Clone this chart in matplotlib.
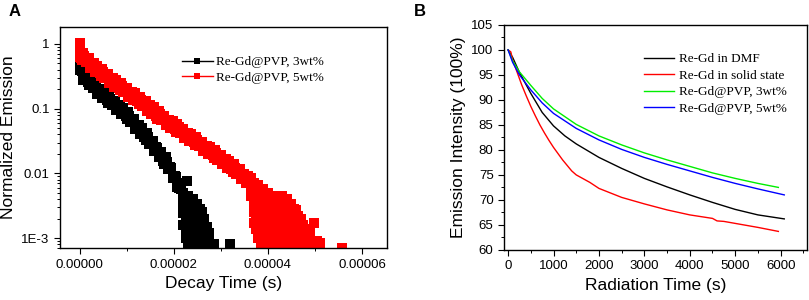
import numpy as np
import matplotlib
matplotlib.use("Agg")
import matplotlib.pyplot as plt
from matplotlib.lines import Line2D
from matplotlib.ticker import NullFormatter, MultipleLocator, LogLocator

plt.rcParams['font.family'] = ['Liberation Sans', 'DejaVu Sans']

# ---------------- Panel A data (time in microseconds) ----------------
labels_A = ["Re-Gd@PVP, 3wt%", "Re-Gd@PVP, 5wt%"]

black_t0_us = [0.0, 0.0, 0.0, 0.0, 0.0, 0.25]
black_v0 = [0.64, 0.57, 0.50, 0.44, 0.40, 0.40]
black_band_t_us = [0.5, 1.0, 1.5, 2.0, 2.5, 3.0, 3.5, 4.0, 4.5, 5.0, 5.5, 6.0, 6.5, 7.0, 7.5,
                   8.0, 8.5, 9.0, 9.5, 10.0, 10.5, 11.0, 11.5, 12.0, 12.5, 13.0, 13.5, 14.0,
                   14.5, 15.0, 15.5, 16.0, 16.5, 17.0, 17.5, 18.0, 18.5, 19.0, 19.5, 20.0,
                   20.5, 21.0, 21.5]
black_band_v = [0.380, 0.288, 0.295, 0.229, 0.257, 0.214, 0.237, 0.178, 0.200, 0.151, 0.157,
                0.123, 0.141, 0.117, 0.132, 0.100, 0.112, 0.0841, 0.0871, 0.0684, 0.0776,
                0.0631, 0.0692, 0.0513, 0.0562, 0.0417, 0.0422, 0.0324, 0.0363, 0.0292,
                0.0316, 0.0232, 0.0251, 0.0182, 0.0182, 0.0138, 0.0151, 0.0117, 0.0123,
                0.0087, 0.0089, 0.0060, 0.0058]
black_mid_t_us = [0.75, 1.25, 1.75, 2.25, 2.75, 3.25, 3.75, 4.25, 4.75, 5.25, 5.75, 6.25, 6.75,
                  7.25, 7.75, 8.25, 8.75, 9.25, 9.75, 10.25, 10.75, 11.25, 11.75, 12.25, 12.75,
                  13.25, 13.75, 14.25, 14.75, 15.25, 15.75, 16.25, 16.75, 17.25, 17.75, 18.25,
                  18.75, 19.25, 19.75, 20.25, 20.75, 21.25]
black_mid_v = [0.279, 0.347, 0.257, 0.295, 0.207, 0.236, 0.169, 0.197, 0.146, 0.183, 0.137,
               0.160, 0.114, 0.130, 0.0944, 0.111, 0.0818, 0.102, 0.0763, 0.0886, 0.0617,
               0.0692, 0.0490, 0.0562, 0.0407, 0.0498, 0.0365, 0.0417, 0.0287, 0.0318,
               0.0223, 0.0253, 0.0180, 0.0216, 0.0157, 0.0176, 0.0117, 0.0126, 0.0085,
               0.0092, 0.0062, 0.0070]
black_tail_t_us = [22.0, 22.0, 22.0, 22.0,
                   22.5, 22.5, 22.5, 22.5, 22.5,
                   23.0, 23.0, 23.0, 23.0, 23.0, 23.0,
                   23.5, 23.5, 23.5, 23.5, 23.5,
                   24.0, 24.0, 24.0, 24.0, 24.0,
                   24.5, 24.5, 24.5, 24.5, 24.5,
                   25.0, 25.0, 25.0, 25.0, 25.0,
                   25.5, 25.5, 25.5, 25.5,
                   26.0, 26.0, 26.0, 26.0,
                   26.5, 26.5, 26.5, 26.5,
                   27.0, 27.0, 27.0,
                   27.5, 27.5,
                   22.8, 28.5, 32.0]
black_tail_v = [0.0050, 0.0035, 0.0024, 0.0016,
                0.0042, 0.0029, 0.0020, 0.0014, 0.0010,
                0.0045, 0.0031, 0.0022, 0.0015, 0.0010, 0.0007,
                0.0038, 0.0026, 0.0018, 0.0012, 0.0008,
                0.0040, 0.0028, 0.0019, 0.0013, 0.0009,
                0.0033, 0.0023, 0.0016, 0.0011, 0.00075,
                0.0034, 0.0024, 0.0016, 0.0011, 0.0008,
                0.0028, 0.0019, 0.0013, 0.0009,
                0.0025, 0.0017, 0.0012, 0.0008,
                0.0020, 0.0014, 0.0010, 0.0007,
                0.0015, 0.0011, 0.0008,
                0.0012, 0.0009,
                0.0075, 0.0008, 0.0008]

red_t0_us = [0.0, 0.0, 0.0, 0.0, 0.0, 0.25]
red_v0 = [1.03, 0.92, 0.80, 0.70, 0.62, 0.60]
red_band_t_us = [0.5, 1.0, 1.5, 2.0, 2.5, 3.0, 3.5, 4.0, 4.5, 5.0, 5.5, 6.0, 6.5, 7.0, 7.5,
                 8.0, 8.5, 9.0, 9.5, 10.0, 10.5, 11.0, 11.5, 12.0, 12.5, 13.0, 13.5, 14.0,
                 14.5, 15.0, 15.5, 16.0, 16.5, 17.0, 17.5, 18.0, 18.5, 19.0, 19.5, 20.0,
                 20.5, 21.0, 21.5, 22.0, 22.5, 23.0, 23.5, 24.0, 24.5, 25.0, 25.5, 26.0,
                 26.5, 27.0, 27.5, 28.0, 28.5, 29.0, 29.5, 30.0, 30.5, 31.0, 31.5, 32.0,
                 32.5, 33.0, 33.5, 34.0, 34.5, 35.0, 35.5, 36.0]
red_band_v = [0.56, 0.65, 0.54, 0.60, 0.45, 0.50, 0.38, 0.40, 0.317, 0.366, 0.306,
              0.344, 0.263, 0.296, 0.227, 0.239, 0.191, 0.221, 0.186, 0.210, 0.161, 0.183,
              0.140, 0.149, 0.117, 0.136, 0.114, 0.131, 0.099, 0.112, 0.086, 0.091,
              0.0700, 0.0813, 0.0684, 0.0776, 0.0596, 0.0676, 0.0519, 0.0550, 0.0442,
              0.0513, 0.0432, 0.0490, 0.0376, 0.0427, 0.0327, 0.0347, 0.0279, 0.0324,
              0.0272, 0.0309, 0.0237, 0.0269, 0.0207, 0.0219, 0.0175, 0.0203, 0.0170,
              0.0192, 0.0147, 0.0166, 0.0126, 0.0133, 0.0106, 0.0122, 0.0102, 0.0115,
              0.0087, 0.0098, 0.0074, 0.0078]
red_mid_t_us = [0.75, 1.25, 1.75, 2.25, 2.75, 3.25, 3.75, 4.25, 4.75, 5.25, 5.75, 6.25, 6.75,
                7.25, 7.75, 8.25, 8.75, 9.25, 9.75, 10.25, 10.75, 11.25, 11.75, 12.25, 12.75,
                13.25, 13.75, 14.25, 14.75, 15.25, 15.75, 16.25, 16.75, 17.25, 17.75, 18.25,
                18.75, 19.25, 19.75, 20.25, 20.75, 21.25, 21.75, 22.25, 22.75, 23.25, 23.75,
                24.25, 24.75, 25.25, 25.75, 26.25, 26.75, 27.25, 27.75, 28.25, 28.75, 29.25,
                29.75, 30.25, 30.75, 31.25, 31.75, 32.25, 32.75, 33.25, 33.75, 34.25, 34.75,
                35.25, 35.75]
red_mid_v = [0.73, 0.52, 0.60, 0.43, 0.50, 0.37, 0.46, 0.35, 0.415, 0.295, 0.34,
             0.248, 0.292, 0.218, 0.276, 0.211, 0.250, 0.178, 0.207, 0.151, 0.179, 0.134,
             0.172, 0.132, 0.153, 0.110, 0.128, 0.093, 0.110, 0.083, 0.105, 0.0772,
             0.0917, 0.0657, 0.0763, 0.0559, 0.0665, 0.0498, 0.0635, 0.0487, 0.0579,
             0.0414, 0.0481, 0.0353, 0.0419, 0.0314, 0.0400, 0.0307, 0.0365, 0.0262,
             0.0304, 0.0223, 0.0265, 0.0198, 0.0253, 0.0193, 0.0229, 0.0163, 0.0189,
             0.0138, 0.0163, 0.0122, 0.0154, 0.0117, 0.0138, 0.0098, 0.0113, 0.0082,
             0.0097, 0.0072, 0.0090]
red_tail_t_us = [36.5, 36.5, 36.5,
                 37.0, 37.0, 37.0, 37.0, 37.0,
                 37.5, 37.5, 37.5, 37.5, 37.5,
                 38.0, 38.0, 38.0, 38.0, 38.0, 38.0,
                 38.5, 38.5, 38.5, 38.5, 38.5, 38.5,
                 39.0, 39.0, 39.0, 39.0, 39.0, 39.0,
                 39.5, 39.5, 39.5, 39.5, 39.5, 39.5,
                 40.0, 40.0, 40.0, 40.0, 40.0, 40.0,
                 40.5, 40.5, 40.5, 40.5, 40.5, 40.5,
                 41.0, 41.0, 41.0, 41.0, 41.0, 41.0,
                 41.5, 41.5, 41.5, 41.5, 41.5,
                 42.0, 42.0, 42.0, 42.0, 42.0, 42.0,
                 42.5, 42.5, 42.5, 42.5, 42.5,
                 43.0, 43.0, 43.0, 43.0, 43.0, 43.0,
                 43.5, 43.5, 43.5, 43.5, 43.5,
                 44.0, 44.0, 44.0, 44.0, 44.0,
                 44.5, 44.5, 44.5, 44.5, 44.5,
                 45.0, 45.0, 45.0, 45.0, 45.0,
                 45.5, 45.5, 45.5, 45.5,
                 46.0, 46.0, 46.0, 46.0,
                 46.5, 46.5, 46.5, 46.5,
                 47.0, 47.0, 47.0,
                 47.5, 47.5, 47.5,
                 48.0, 48.0,
                 48.6, 49.0, 49.0, 49.7, 50.5, 51.1, 55.7]
red_tail_v = [0.0085, 0.0060, 0.0045,
              0.0070, 0.0050, 0.0036, 0.0025, 0.0017,
              0.0062, 0.0043, 0.0030, 0.0020, 0.0014,
              0.0065, 0.0045, 0.0032, 0.0022, 0.0015, 0.0010,
              0.0055, 0.0038, 0.0026, 0.0018, 0.0012, 0.0008,
              0.0058, 0.0040, 0.0028, 0.0019, 0.0013, 0.0009,
              0.0048, 0.0033, 0.0023, 0.0016, 0.0011, 0.00075,
              0.0050, 0.0035, 0.0024, 0.0017, 0.0012, 0.0008,
              0.0042, 0.0029, 0.0020, 0.0014, 0.0010, 0.0007,
              0.0045, 0.0031, 0.0021, 0.0015, 0.0010, 0.0007,
              0.0038, 0.0026, 0.0018, 0.0012, 0.0009,
              0.0044, 0.0030, 0.0021, 0.0014, 0.0010, 0.0007,
              0.0036, 0.0025, 0.0017, 0.0012, 0.0008,
              0.0045, 0.0031, 0.0021, 0.0014, 0.0010, 0.0007,
              0.0037, 0.0025, 0.0017, 0.0012, 0.0008,
              0.0040, 0.0028, 0.0019, 0.0013, 0.0009,
              0.0033, 0.0023, 0.0016, 0.0011, 0.00075,
              0.0034, 0.0024, 0.0016, 0.0011, 0.0008,
              0.0028, 0.0019, 0.0013, 0.0009,
              0.0027, 0.0019, 0.0013, 0.0009,
              0.0022, 0.0015, 0.0010, 0.0007,
              0.0020, 0.0014, 0.0009,
              0.0016, 0.0011, 0.0008,
              0.0014, 0.0009,
              0.0010, 0.0012, 0.0008, 0.0017, 0.0009, 0.00083, 0.0007]

xticks_A = [0.0, 0.00002, 0.00004, 0.00006]
xticklabels_A = ["0.00000", "0.00002", "0.00004", "0.00006"]
yticks_A = [1e-3, 1e-2, 1e-1, 1.0]
yticklabels_A = ["1E-3", "0.01", "0.1", "1"]

# ---------------- Panel B data ----------------
labels_B = ["Re-Gd in DMF", "Re-Gd in solid state", "Re-Gd@PVP, 3wt%", "Re-Gd@PVP, 5wt%"]
colors_B = ["black", "#ff0000", "#00ee00", "#0000ff"]

dmf_t = [0, 100, 250, 500, 750, 1000, 1250, 1500, 2000, 2500, 3000, 3500, 4000, 4500, 5000, 5500, 6080]
dmf_v = [100, 98.5, 95.5, 91.3, 87.5, 84.8, 82.8, 81.2, 78.5, 76.3, 74.3, 72.6, 71.0, 69.5, 68.1, 67.0, 66.2]

solid_t = [0, 60, 100, 200, 300, 400, 500, 600, 700, 800, 900, 1000, 1200, 1400, 1500, 1600, 1800,
           2000, 2500, 3000, 3500, 4000, 4500, 4600, 4750, 5000, 5500, 5950]
solid_v = [100, 99.6, 98.0, 95.5, 93.0, 90.8, 88.7, 86.8, 85.0, 83.4, 81.9, 80.5, 78.0, 75.8, 75.0,
           74.5, 73.5, 72.3, 70.5, 69.2, 68.0, 67.0, 66.3, 65.8, 65.7, 65.3, 64.5, 63.7]

pvp3_t = [0, 100, 250, 500, 750, 1000, 1500, 2000, 2500, 3000, 3500, 4000, 4500, 5000, 5500, 5950]
pvp3_v = [100, 97.8, 95.6, 92.9, 90.3, 88.2, 85.1, 82.8, 81.0, 79.4, 78.0, 76.7, 75.4, 74.3, 73.3, 72.5]

pvp5_t = [0, 100, 250, 500, 750, 1000, 1500, 2000, 2500, 3000, 3500, 4000, 4500, 5000, 5500, 6080]
pvp5_v = [100, 97.5, 95.0, 92.0, 89.4, 87.3, 84.3, 82.0, 80.1, 78.5, 77.1, 75.8, 74.5, 73.3, 72.2, 71.0]

# ---------------- Figure ----------------
fig = plt.figure(figsize=(8.09, 3.0), dpi=100)
axA = fig.add_axes([0.0742, 0.173, 0.404, 0.737])
axB = fig.add_axes([0.623, 0.167, 0.3745, 0.750])

ms = 6.8
to_s = 1e-6
black_sets = [(black_t0_us, black_v0), (black_band_t_us, black_band_v),
              (black_mid_t_us, black_mid_v), (black_tail_t_us, black_tail_v)]
red_sets = [(red_t0_us, red_v0), (red_band_t_us, red_band_v),
            (red_mid_t_us, red_mid_v), (red_tail_t_us, red_tail_v)]
for tlist, vlist in black_sets:
    axA.plot(np.array(tlist) * to_s, vlist, linestyle='none', marker='s', ms=ms, mew=0, color='black')
for tlist, vlist in red_sets:
    axA.plot(np.array(tlist) * to_s, vlist, linestyle='none', marker='s', ms=ms, mew=0, color='#ff0000')

axA.set_yscale('log')
axA.set_xlim(-4.2e-6, 6.53e-5)
axA.set_ylim(7.0e-4, 1.83)
axA.set_xticks(xticks_A)
axA.set_xticklabels(xticklabels_A)
axA.xaxis.set_minor_locator(MultipleLocator(1e-5))
axA.set_yticks(yticks_A)
axA.set_yticklabels(yticklabels_A)
axA.yaxis.set_minor_locator(LogLocator(base=10, subs=np.arange(2, 10)))
axA.yaxis.set_minor_formatter(NullFormatter())
axA.set_xlabel("Decay Time (s)", fontsize=12.5)
axA.set_ylabel("Normalized Emission", fontsize=12.5)

handlesA = [Line2D([], [], color='black', marker='s', ms=4, mew=0, lw=1),
            Line2D([], [], color='#ff0000', marker='s', ms=4, mew=0, lw=1)]
axA.legend(handlesA, labels_A, loc='upper left', bbox_to_anchor=(0.358, 0.893),
           frameon=False, prop={'family': 'Liberation Serif', 'size': 9.5},
           handlelength=2.3, handletextpad=0.25, labelspacing=0.25, borderaxespad=0)

for t, v, c, lab in [(dmf_t, dmf_v, colors_B[0], labels_B[0]),
                     (solid_t, solid_v, colors_B[1], labels_B[1]),
                     (pvp3_t, pvp3_v, colors_B[2], labels_B[2]),
                     (pvp5_t, pvp5_v, colors_B[3], labels_B[3])]:
    axB.plot(t, v, color=c, lw=1.0, label=lab)

axB.set_xlim(-90, 6580)
axB.set_ylim(60, 105)
axB.xaxis.set_major_locator(MultipleLocator(1000))
axB.xaxis.set_minor_locator(MultipleLocator(500))
axB.yaxis.set_major_locator(MultipleLocator(5))
axB.yaxis.set_minor_locator(MultipleLocator(2.5))
axB.set_xlabel("Radiation Time (s)", fontsize=12.5)
axB.set_ylabel("Emission Intensity (100%)", fontsize=12.5)
axB.legend(loc='upper left', bbox_to_anchor=(0.445, 0.898), frameon=False,
           prop={'family': 'Liberation Serif', 'size': 9.5},
           handlelength=2.3, handletextpad=0.35, labelspacing=0.32, borderaxespad=0)

for ax in (axA, axB):
    ax.tick_params(axis='both', which='major', labelsize=9.5, direction='out', length=4, width=0.8)
    ax.tick_params(axis='both', which='minor', direction='out', length=2.2, width=0.7)
    for sp in ax.spines.values():
        sp.set_linewidth(1.0)

fig.text(0.010, 0.960, "A", fontsize=12, fontweight='bold', va='center', ha='left')
fig.text(0.512, 0.960, "B", fontsize=12, fontweight='bold', va='center', ha='left')

fig.savefig("out.png", dpi=100)
